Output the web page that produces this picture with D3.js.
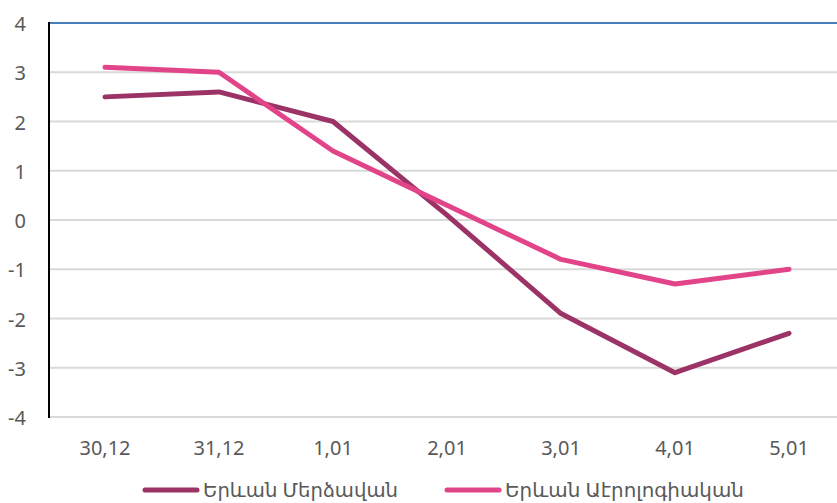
<!DOCTYPE html>
<html>
<head>
<meta charset="utf-8">
<style>
  body { margin: 0; background: #fff; }
  text { font-family: "Noto Sans", "DejaVu Sans", sans-serif; fill: #595959; }
</style>
</head>
<body>
<svg width="837" height="503"></svg>
<script src="https://d3js.org/d3.v7.min.js"></script>
<script>

const categories = ["30,12", "31,12", "1,01", "2,01", "3,01", "4,01", "5,01"];
const merdzavan = [2.5, 2.6, 2.0, 0.1, -1.9, -3.1, -2.3];
const aerologic = [3.1, 3.0, 1.4, 0.3, -0.8, -1.3, -1.0];
const yTicks = [-4, -3, -2, -1, 0, 1, 2, 3, 4];

const series = [
  { name: "Երևան Մերձավան", values: merdzavan, color: "#9c3366" },
  { name: "Երևան Աէրոլոգիական", values: aerologic, color: "#e2448a" }
];

const svg = d3.select("svg");

const x = d3.scaleBand()
  .domain(categories)
  .range([48, 846]);

const y = d3.scaleLinear()
  .domain([-4, 4])
  .range([417, 23]);

// gridlines
svg.append("g")
  .selectAll("line")
  .data(yTicks.filter(d => d > -4 && d < 4))
  .enter()
  .append("line")
  .attr("x1", 49)
  .attr("x2", 837)
  .attr("y1", d => y(d))
  .attr("y2", d => y(d))
  .attr("stroke", "#d9d9d9")
  .attr("stroke-width", 2);

// bottom axis line
svg.append("line")
  .attr("x1", 49).attr("x2", 837)
  .attr("y1", y(-4)).attr("y2", y(-4))
  .attr("stroke", "#d9d9d9")
  .attr("stroke-width", 2);

// top border line
svg.append("line")
  .attr("x1", 49).attr("x2", 837)
  .attr("y1", y(4)).attr("y2", y(4))
  .attr("stroke", "#4a7ebb")
  .attr("stroke-width", 2);

// y axis labels (plain hyphen minus, as in the original)
const yAxis = d3.axisLeft(y)
  .tickValues(yTicks)
  .tickSize(0)
  .tickPadding(0)
  .tickFormat(d => String(d));

const yg = svg.append("g")
  .attr("transform", "translate(26,0)")
  .call(yAxis);
yg.select(".domain").remove();
yg.selectAll("text")
  .attr("font-size", 20)
  .attr("dy", "0.38em")
  .style("fill", "#595959");

// y axis line
svg.append("line")
  .attr("x1", 49).attr("x2", 49)
  .attr("y1", y(4) - 1).attr("y2", y(-4) + 1)
  .attr("stroke", "#000")
  .attr("stroke-width", 2);

// x axis labels
const xAxis = d3.axisBottom(x)
  .tickSize(0)
  .tickPadding(0);

const xg = svg.append("g")
  .attr("transform", "translate(0,441)")
  .call(xAxis);
xg.select(".domain").remove();
xg.selectAll("text")
  .attr("font-size", 20)
  .attr("dy", "0.71em")
  .style("fill", "#595959");

// lines
const line = d3.line()
  .x((d, i) => x(categories[i]) + x.bandwidth() / 2)
  .y(d => y(d));

svg.append("g")
  .selectAll("path")
  .data(series)
  .enter()
  .append("path")
  .attr("d", d => line(d.values))
  .attr("fill", "none")
  .attr("stroke", d => d.color)
  .attr("stroke-width", 5)
  .attr("stroke-linecap", "round")
  .attr("stroke-linejoin", "round");

// legend
const legendX = [143, 445];
const legendW = [195, 239];
const legend = svg.append("g")
  .selectAll("g")
  .data(series)
  .enter()
  .append("g")
  .attr("transform", (d, i) => "translate(" + legendX[i] + ",490)");

legend.append("line")
  .attr("x1", 2).attr("x2", 54)
  .attr("y1", 0).attr("y2", 0)
  .attr("stroke", d => d.color)
  .attr("stroke-width", 5)
  .attr("stroke-linecap", "round");

legend.append("text")
  .attr("x", 60)
  .attr("y", 0)
  .attr("dy", "0.35em")
  .attr("font-size", 19)
  .attr("textLength", (d, i) => legendW[i])
  .attr("lengthAdjust", "spacingAndGlyphs")
  .text(d => d.name);

</script>
</body>
</html>
